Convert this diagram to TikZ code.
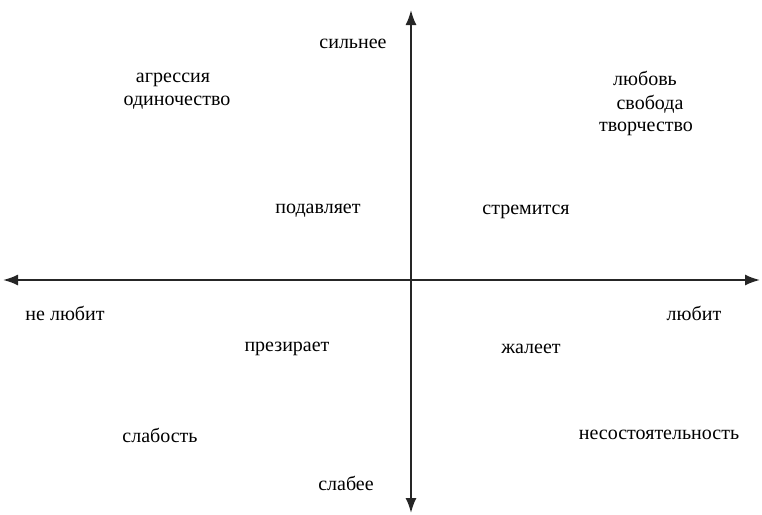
\documentclass[tikz,border=0pt]{standalone}
\usepackage{fontspec}
\setmainfont{Liberation Serif}
\usetikzlibrary{arrows.meta}
\begin{document}
\begin{tikzpicture}[x=1pt,y=-1pt,
  lbl/.style={font=\fontsize{20}{23}\selectfont, text=black, inner sep=0pt, align=center},
  axis/.style={line width=1.8pt, draw=black!85, -{Latex[length=15pt,width=11pt]}}]
\useasboundingbox (0,0) rectangle (762,514);
\coordinate (c) at (411,280);
\coordinate (top) at (411,10);
\coordinate (bot) at (411,513);
\coordinate (lft) at (3,280);
\coordinate (rgt) at (760,280);
\draw[axis] (c) -- (top);
\draw[axis] (c) -- (bot);
\draw[axis] (c) -- (lft);
\draw[axis] (c) -- (rgt);
\node[lbl] (n1) at (353,44) {сильнее};
\node[lbl] (n2) at (346,483) {слабее};
\node[lbl] (n3) at (173,80) {агрессия};
\node[lbl] (n4) at (177,103) {одиночество};
\node[lbl] (n5) at (645,78) {любовь};
\node[lbl] (n6) at (650,104) {свобода};
\node[lbl] (n7) at (646,129) {творчество};
\node[lbl] (n8) at (318,211) {подавляет};
\node[lbl] (n9) at (526,212) {стремится};
\node[lbl] (n10) at (65,313) {не любит};
\node[lbl] (n11) at (694,313) {любит};
\node[lbl] (n12) at (287,349) {презирает};
\node[lbl] (n13) at (531,349) {жалеет};
\node[lbl] (n14) at (160,435) {слабость};
\node[lbl] (n15) at (659,435) {несостоятельность};
\end{tikzpicture}
\end{document}
